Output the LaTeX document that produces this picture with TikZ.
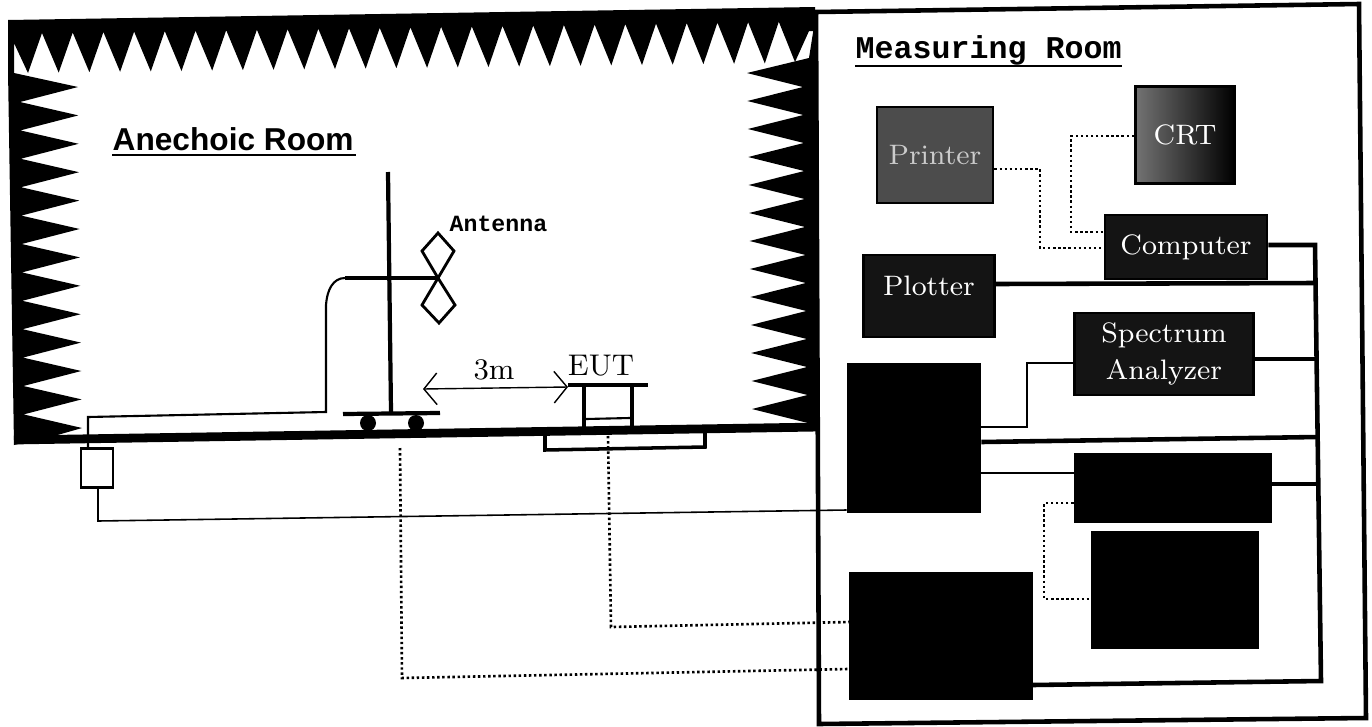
\documentclass[tikz,border=0pt]{standalone}
\usepackage{fontspec}
\usepackage{amsmath}
\usetikzlibrary{arrows.meta}
\newfontfamily\roomfont{Liberation Sans}
\newfontfamily\monofont{Liberation Mono}

\tikzset{
    room/.style={font=\roomfont\bfseries\fontsize{9}{10}\selectfont, inner sep=0pt, anchor=base west},
    devbox/.style={draw=black, line width=0.8pt, fill=black!92, inner sep=0pt, text=white,
        align=center, font=\fontsize{8}{10}\selectfont},
    bus/.style={line width=1.3pt},
    thinline/.style={line width=0.45pt},
    dotline/.style={line width=0.75pt, dash pattern=on 0.7pt off 0.75pt},
}

\begin{document}
\begin{tikzpicture}[x=0.01cm, y=-0.01cm, >={Straight Barb[length=3.7pt, width=9pt]}]
    \useasboundingbox (0,0) rectangle (1372,727);

    % Measuring room frame
    \draw[line width=1.3pt] (816,12) -- (1359,4) -- (1366,718) -- (819,724) -- cycle;

    % Absorbers along the top and the walls
    \fill (8,20) -- (8,73) -- (14,73) -- (14,43)
        \foreach \k in {0,...,24} { -- ({28+30.7*\k},{73-0.4*\k}) -- ({42+30.7*\k},{33-0.47*\k}) }
        -- (795,62) -- (809,31) -- (815,31) -- (815,7) -- cycle;
    \fill (8,70) -- (14,73)
        \foreach \k in {0,...,11} { -- ({78+0.33*\k},{87+28.4*\k}) -- ({20+0.33*\k},{102+28.4*\k}) }
        -- (82,428) -- (54,436) -- (14,445) -- cycle;
    \fill (815,20) -- (809,58)
        \foreach \k in {0,...,11} { -- ({747+0.42*\k},{73+28*\k}) -- ({803+0.42*\k},{87+28*\k}) }
        -- (752,409) -- (808,423) -- (819,428) -- cycle;

    % Floor and turntable pit
    \draw[line width=2.5pt] (14,440) -- (819,427);
    \draw[line width=1pt] (545,436) -- (545,450) -- (705,447) -- (705,433);

    % Titles
    \node[room] (anechoic) at (112,150) {Anechoic Room};
    \draw[line width=0.5pt] ([yshift=-0.05cm]anechoic.base west) -- ([yshift=-0.05cm,xshift=0.02cm]anechoic.base east);
    \node[room, font=\monofont\bfseries\fontsize{9}{10}\selectfont] (measuring) at (855,58) {Measuring Room};
    \draw[line width=0.5pt] ([yshift=-0.08cm]measuring.base west) -- ([yshift=-0.08cm]measuring.base east);

    % Antenna mast on its cart
    \coordinate (feed) at (438,278);
    \draw[line width=1.2pt] (388,172) -- (391,412);
    \draw[line width=1.2pt] (343,414) -- (440,413);
    \fill (368,423) circle (8) (416,423) circle (8);
    \draw[line width=0.8pt] (feed) -- (422,251) -- (438,233) -- (454,251) -- cycle;
    \draw[line width=0.8pt] (feed) -- (422,305) -- (439,323) -- (455,305) -- cycle;
    \draw[line width=1.1pt] (345,278) -- (feed);
    \node[inner sep=0pt, anchor=base west, font=\monofont\bfseries\fontsize{6.6}{8}\selectfont] (antenna) at (449,231) {Antenna};

    % Table with the unit under test
    \draw[line width=1pt] (568,385) -- (648,385);
    \draw[line width=1.3pt] (584,385) -- (584,429);
    \draw[line width=1.3pt] (632,385) -- (632,428);
    \draw[line width=0.6pt] (586,419) -- (630,418);
    \node[font=\fontsize{8.5}{10}\selectfont, inner sep=0pt] (eut) at (601,366) {EUT};

    % Distance
    \coordinate (distl) at (423,389);
    \coordinate (distr) at (568,387);
    \draw[<->, line width=0.4pt] (distl) -- (distr);
    \node[font=\fontsize{8.5}{10}\selectfont, inner sep=0pt] (dist) at (494,370) {3m};

    % Instruments
    \node[devbox, fill=black!70, text=black!20, minimum width=1.16cm, minimum height=0.96cm] (printer) at (935,155) {Printer};
    \node[devbox, left color=black!55, right color=black, minimum width=0.99cm, minimum height=0.97cm] (crt) at (1185,135) {CRT};
    \node[devbox, minimum width=1.62cm, minimum height=0.64cm] (computer) at (1186,247) {Computer};
    \node[devbox, minimum width=1.31cm, minimum height=0.82cm, label={[text=white, font=\fontsize{8}{10}\selectfont, yshift=0.1cm]center:Plotter}] (plotter) at (929,296) {};
    \node[devbox, minimum width=1.79cm, minimum height=0.82cm] (spectrum) at (1164,354) {Spectrum\\[0.02cm]Analyzer};
    \node[devbox, fill=black, minimum width=1.32cm, minimum height=1.48cm] (tallbox) at (914,438) {};
    \node[devbox, fill=black, minimum width=1.96cm, minimum height=0.67cm] (widebox) at (1173,488) {};
    \node[devbox, fill=black, minimum width=1.65cm, minimum height=1.15cm] (lowbox) at (1175,590) {};
    \node[devbox, fill=black, minimum width=1.81cm, minimum height=1.26cm] (bigbox) at (941,636) {};
    \node[draw, line width=0.8pt, fill=white, minimum width=0.32cm, minimum height=0.39cm, inner sep=0pt] (preamp) at (97,468) {};

    % Dotted links
    \draw[dotline] (printer.east |- 0,169) -- (1040,169) -- (1040,248) -- (computer.west |- 0,248);
    \draw[dotline] (crt.west |- 0,136) -- (1071,136) -- (1071,232) -- (computer.west |- 0,232);
    \draw[dotline] (widebox.west |- 0,503) -- (1044,503) -- (1044,599) -- (lowbox.west |- 0,599);
    \draw[dotline] (608,436) -- (611,627) -- (bigbox.west |- 0,622);
    \draw[dotline] (400,448) -- (402,678) -- (bigbox.west |- 0,669);

    % Thin links
    \draw[thinline] (tallbox.east |- 0,427) -- (1027,427) -- (1027,363) -- (spectrum.west |- 0,363);
    \draw[thinline] (tallbox.east |- 0,473) -- (widebox.west |- 0,473);
    \draw[thinline] (preamp.south -| 98,0) -- (98,521) -- (tallbox.west |- 0,510);
    \draw[thinline, line width=0.6pt] (345,278) .. controls (333,278) and (327,290) .. (326,305) -- (326,412) -- (88,417) -- (preamp.north -| 88,0);

    % Bus on the right
    \draw[bus] (computer.east |- 0,245) -- (1315,245) -- (1321,681) -- (bigbox.east |- 0,685);
    \draw[bus] (plotter.east |- 0,284) -- (1316,283);
    \draw[bus] (spectrum.east |- 0,359) -- (1317,359);
    \draw[bus] (tallbox.east |- 0,442) -- (1318,437);
    \draw[bus] (widebox.east |- 0,484) -- (1319,484);
\end{tikzpicture}
\end{document}
